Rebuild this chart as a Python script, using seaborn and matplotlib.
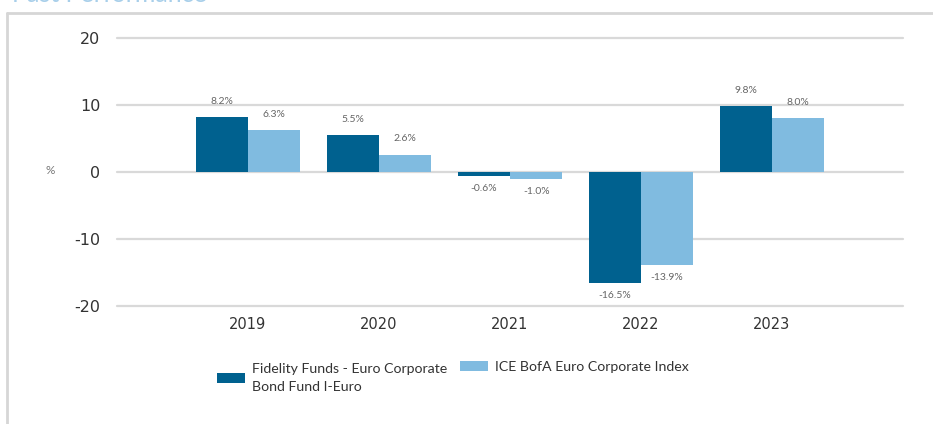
import matplotlib
matplotlib.use("Agg")
import matplotlib.pyplot as plt
import seaborn as sns
import pandas as pd
from matplotlib.patches import Patch
from matplotlib.lines import Line2D

years = ["2019", "2020", "2021", "2022", "2023"]
fund_name = "Fidelity Funds - Euro Corporate\nBond Fund I-Euro"
index_name = "ICE BofA Euro Corporate Index"
fund_values = [8.2, 5.5, -0.6, -16.5, 9.8]
index_values = [6.3, 2.6, -1.0, -13.9, 8.0]
y_ticks = [-20, -10, 0, 10, 20]

dark = "#00618F"
light = "#80BBE0"

df = pd.DataFrame({
    "year": years * 2,
    "series": [fund_name] * len(years) + [index_name] * len(years),
    "value": fund_values + index_values,
})

sns.set_theme(style="white")
plt.rcParams["font.family"] = ["DejaVu Sans"]

fig = plt.figure(figsize=(9.33, 4.24), dpi=100)
ax = fig.add_axes([117 / 933, 1 - 306 / 424, 786 / 933, 268 / 424])

sns.barplot(data=df, x="year", y="value", hue="series", order=years,
            hue_order=[fund_name, index_name], palette=[dark, light],
            width=0.8, saturation=1, ax=ax, legend=False, errorbar=None,
            linewidth=0, zorder=3)

ax.set_xlim(-1, 5)
ax.set_ylim(-20, 20)
ax.set_yticks(y_ticks)
ax.set_yticklabels([str(t) for t in y_ticks])
for t in y_ticks:
    ax.axhline(t, color="#d9d9d9", lw=1.6, zorder=1, clip_on=False)
for s in ax.spines.values():
    s.set_visible(False)
ax.tick_params(axis="y", length=0, pad=12, labelsize=11.5, labelcolor="#333333")
ax.tick_params(axis="x", length=0, pad=8, labelsize=10.5, labelcolor="#333333")
ax.set_xlabel("")
ax.set_ylabel("")
ax.grid(False)

# value labels
for container, vals in zip(ax.containers, [fund_values, index_values]):
    for bar, v in zip(container, vals):
        xc = bar.get_x() + bar.get_width() / 2
        if v >= 0:
            ax.annotate(f"{v:.1f}%", (xc, v), xytext=(0, 8), textcoords="offset points",
                        ha="center", va="bottom", fontsize=7.5, color="#666666",
                        family="Lato")
        else:
            ax.annotate(f"{v:.1f}%", (xc, v), xytext=(0, -6), textcoords="offset points",
                        ha="center", va="top", fontsize=7.5, color="#666666",
                        family="Lato")

fig.text(50 / 933, 1 - 170 / 424, "%", fontsize=8.5, color="#777777", ha="center",
         va="center", family="Lato")

# legend
leg_props = {"family": "Lato", "size": 10.2}
leg1 = fig.legend(handles=[Patch(facecolor=dark, edgecolor="none")], labels=[fund_name],
                  loc="center left", bbox_to_anchor=(217 / 933, 1 - 378 / 424),
                  frameon=False, handlelength=2.0, handleheight=0.7,
                  handletextpad=0.5, labelcolor="#333333", borderaxespad=0, borderpad=0,
                  prop=leg_props)
for t in leg1.get_texts():
    t.set_linespacing(1.55)
leg2 = fig.legend(handles=[Patch(facecolor=light, edgecolor="none")], labels=[index_name],
                  loc="center left", bbox_to_anchor=(460 / 933, 1 - 367 / 424),
                  frameon=False, handlelength=2.0, handleheight=0.7,
                  handletextpad=0.5, labelcolor="#333333", borderaxespad=0, borderpad=0,
                  prop=leg_props)

# panel border
fig.add_artist(Line2D([7 / 933, 7 / 933], [0, 1 - 13 / 424], transform=fig.transFigure,
                      color="#d6d6d6", lw=2))
fig.add_artist(Line2D([7 / 933, 1], [1 - 13 / 424, 1 - 13 / 424], transform=fig.transFigure,
                      color="#d6d6d6", lw=2))
fig.text(12 / 933, 1 - 2 / 424, "Past Performance", fontsize=18, color="#a8cfea",
         ha="left", va="baseline", family="Lato")

fig.savefig("out.png", dpi=100)
